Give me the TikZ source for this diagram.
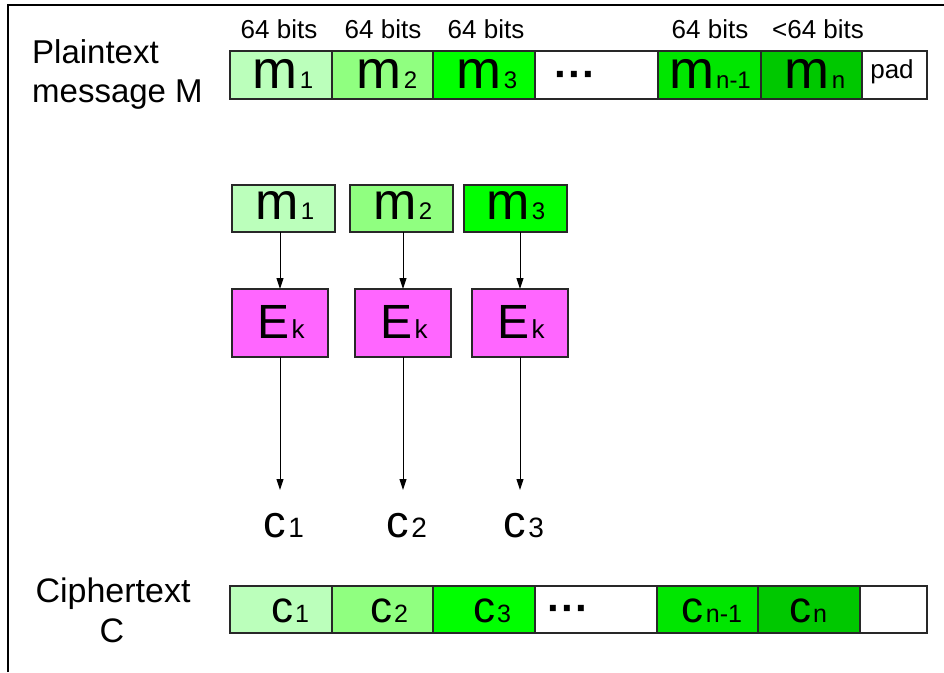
\documentclass[tikz,border=0pt]{standalone}
\usepackage{fontspec}
\setmainfont{Liberation Sans}
\usetikzlibrary{arrows.meta}
\definecolor{gA}{RGB}{187,255,187}
\definecolor{gB}{RGB}{144,255,128}
\definecolor{gC}{RGB}{0,255,0}
\definecolor{gD}{RGB}{0,230,0}
\definecolor{gE}{RGB}{0,200,0}
\definecolor{mag}{RGB}{255,102,255}
\definecolor{edge}{RGB}{40,40,40}
\newcommand\fs[2]{{\fontsize{#1}{#1}\selectfont #2}}
\newcommand\ms[4]{\fs{#1}{#2}\kern2pt\fs{#3}{#4}}
\tikzset{
  cell/.style={draw=edge, line width=1.3pt, anchor=north west, inner sep=0pt, outer sep=0pt},
  txt/.style={anchor=base, inner sep=0pt},
  arr/.style={line width=1pt, -{Triangle[length=11pt,width=7pt]}},
}
\begin{document}
\begin{tikzpicture}[x=1pt,y=-1pt]
\useasboundingbox (0,0) rectangle (944,672);
\fill[white] (0,0) rectangle (944,672);
\draw[line width=1.3pt] (8,672) -- (8,5) -- (944,5);

% top bar
\node[cell, fill=gA, minimum width=102pt, minimum height=48pt] (t1) at (230,51) {};
\node[cell, fill=gB, minimum width=101pt, minimum height=48pt] (t2) at (332,51) {};
\node[cell, fill=gC, minimum width=102pt, minimum height=48pt] (t3) at (433,51) {};
\node[cell, fill=white, minimum width=123pt, minimum height=48pt] (t4) at (535,51) {};
\node[cell, fill=gD, minimum width=103pt, minimum height=48pt] (t5) at (658,51) {};
\node[cell, fill=gE, minimum width=101pt, minimum height=48pt] (t6) at (761,51) {};
\node[cell, fill=white, minimum width=65pt, minimum height=48pt] (t7) at (862,51) {};

\node[txt] (tm1) at (283,88) {\ms{54}{m}{24}{1}};
\node[txt] (tm2) at (387,88) {\ms{54}{m}{24}{2}};
\node[txt] (tm3) at (487,88) {\ms{54}{m}{24}{3}};
\node[txt] (tdots) at (575,88) {\fs{42}{\textbf{···}}};
\node[txt] (tm5) at (710,88) {\ms{54}{m}{24}{n-1}};
\node[txt] (tm6) at (815,88) {\ms{54}{m}{24}{n}};
\node[txt] (tpad) at (892,78) {\fs{26}{pad}};

\node[txt] (b1) at (279,38) {\fs{26}{64 bits}};
\node[txt] (b2) at (383,38) {\fs{26}{64 bits}};
\node[txt] (b3) at (486,38) {\fs{26}{64 bits}};
\node[txt] (b5) at (710,38) {\fs{26}{64 bits}};
\node[txt] (b6) at (818,38) {\fs{26}{<64 bits}};

\node[txt, anchor=base west] (pl1) at (32,63) {\fs{33}{Plaintext}};
\node[txt, anchor=base west] (pl2) at (32,102) {\fs{33}{message M}};

% middle blocks
\node[cell, fill=gA, minimum width=103pt, minimum height=47pt] (m1) at (232,185) {};
\node[cell, fill=gB, minimum width=103pt, minimum height=47pt] (m2) at (350,185) {};
\node[cell, fill=gC, minimum width=103pt, minimum height=47pt] (m3) at (464,185) {};
\node[txt] (mt1) at (285,219) {\ms{52}{m}{24}{1}};
\node[txt] (mt2) at (403,219) {\ms{52}{m}{24}{2}};
\node[txt] (mt3) at (516,219) {\ms{52}{m}{24}{3}};

\node[cell, fill=mag, minimum width=96pt, minimum height=68pt] (E1) at (232,289) {};
\node[cell, fill=mag, minimum width=96pt, minimum height=68pt] (E2) at (355,289) {};
\node[cell, fill=mag, minimum width=96pt, minimum height=68pt] (E3) at (472,289) {};
\node[txt] (Et1) at (281,338) {\ms{48}{E}{26}{k}};
\node[txt] (Et2) at (404,338) {\ms{48}{E}{26}{k}};
\node[txt] (Et3) at (521,338) {\ms{48}{E}{26}{k}};

\draw[arr] (m1.south -| E1.north) -- (E1.north);
\draw[arr] (m2.south -| E2.north) -- (E2.north);
\draw[arr] (m3.south -| E3.north) -- (E3.north);

\node[txt] (c1) at (284,537) {\ms{45}{c}{28}{1}};
\node[txt] (c2) at (407,537) {\ms{45}{c}{28}{2}};
\node[txt] (c3) at (524,537) {\ms{45}{c}{28}{3}};
\coordinate (k1) at (E1.south |- 0,490);
\coordinate (k2) at (E2.south |- 0,490);
\coordinate (k3) at (E3.south |- 0,490);
\draw[arr] (E1.south) -- (k1);
\draw[arr] (E2.south) -- (k2);
\draw[arr] (E3.south) -- (k3);

% bottom bar
\node[cell, fill=gA, minimum width=102pt, minimum height=47pt] (u1) at (230,586) {};
\node[cell, fill=gB, minimum width=101pt, minimum height=47pt] (u2) at (332,586) {};
\node[cell, fill=gC, minimum width=102pt, minimum height=47pt] (u3) at (433,586) {};
\node[cell, fill=white, minimum width=122pt, minimum height=47pt] (u4) at (535,586) {};
\node[cell, fill=gD, minimum width=101pt, minimum height=47pt] (u5) at (657,586) {};
\node[cell, fill=gE, minimum width=102pt, minimum height=47pt] (u6) at (758,586) {};
\node[cell, fill=white, minimum width=67pt, minimum height=47pt] (u7) at (860,586) {};

\node[txt] (ut1) at (290,622) {\ms{44}{c}{25}{1}};
\node[txt] (ut2) at (389,622) {\ms{44}{c}{25}{2}};
\node[txt] (ut3) at (492,622) {\ms{44}{c}{25}{3}};
\node[txt] (udots) at (568,622) {\fs{42}{\textbf{···}}};
\node[txt] (ut5) at (712,622) {\ms{44}{c}{25}{n-1}};
\node[txt] (ut6) at (808,622) {\ms{44}{c}{25}{n}};

\node[txt] (ci1) at (113,602) {\fs{34}{Ciphertext}};
\node[txt] (ci2) at (112,642) {\fs{34}{C}};
\end{tikzpicture}
\end{document}
